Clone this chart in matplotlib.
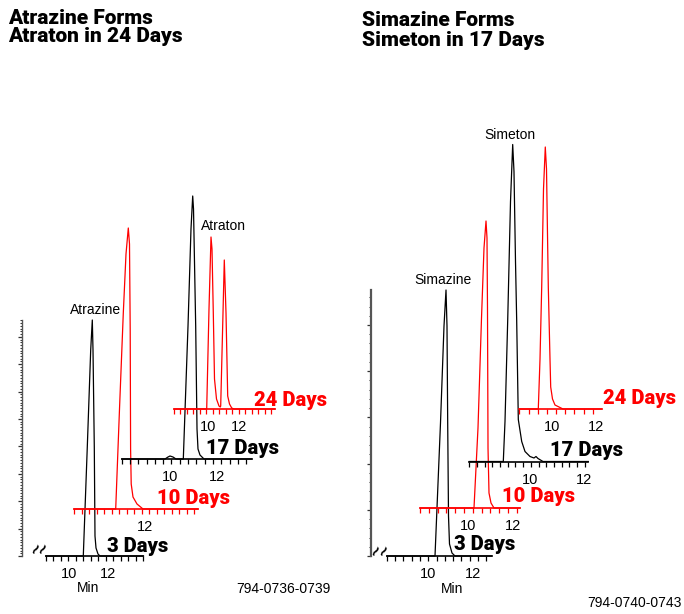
import numpy as np
import matplotlib
matplotlib.use('Agg')
import matplotlib.pyplot as plt

plt.rcParams['font.family'] = ['Liberation Sans', 'DejaVu Sans']

W, H = 684, 614
RED = '#ff0000'
HEAVY = ['Roboto', 'Liberation Sans', 'DejaVu Sans']

# ---- chromatogram data: retention time (min) and detector response
# left panel: atrazine -> atraton
day_labels = ['3 Days', '10 Days', '17 Days', '24 Days']

atz3_t = [8.8, 10.733, 10.938, 11.113, 11.195, 11.231, 11.297, 11.333, 11.385, 11.487, 11.59, 13.82]
atz3_y = [0, 0, 109, 206, 236, 206, 109, 20, 8, 2, 0, 0]

atz10_t = [8.263, 10.458, 10.658, 10.858, 11.0, 11.121, 11.184, 11.221, 11.242, 11.274, 11.368, 11.579, 11.895, 14.79]
atz10_y = [0, 0, 100, 196, 255, 281, 265, 180, 60, 25, 12, 5, 0, 0]

atz17_t = [7.923, 9.766, 9.894, 9.979, 10.106, 10.234, 10.545, 10.745, 10.872, 10.945, 10.979,
           11.072, 11.128, 11.17, 11.255, 11.426, 13.455]
atz17_y = [0, 0, 2, 3, 2, 0, 0, 133, 230, 263, 250, 133, 30, 10, 4, 0, 0]

atz24_t = [7.7, 9.88, 10.033, 10.167, 10.233, 10.32, 10.4, 10.533, 10.7, 10.787,
           10.813, 10.967, 11.053, 11.167, 11.28, 11.4, 11.547, 11.7, 14.43]
atz24_y = [0, 0, 100, 172, 160, 96, 30, 10, 3, 2, 3, 96, 149, 96, 13, 5, 1, 0, 0]

# right panel: simazine -> simeton
sim3_t = [8.151, 10.298, 10.542, 10.698, 10.787, 10.831, 10.862, 10.898, 10.942, 11.053, 11.187, 12.818]
sim3_y = [0, 0, 133, 230, 266, 230, 133, 40, 12, 3, 0, 0]

sim10_t = [7.853, 10.253, 10.431, 10.587, 10.698, 10.787, 10.831, 10.853, 10.876, 10.92, 11.009, 11.142, 12.298]
sim10_y = [0, 0, 80, 190, 260, 287, 270, 200, 60, 15, 5, 0, 0]

sim17_t = [7.752, 9.011, 9.074, 9.174, 9.278, 9.359, 9.407, 9.463, 9.507, 9.567, 9.693,
           9.815, 10.0, 10.148, 10.222, 10.296, 10.481, 12.159]
sim17_y = [0, 0, 40, 141, 260, 317, 290, 200, 141, 42, 20, 10, 5, 3.5, 5, 3, 0, 0]

sim24_t = [8.514, 9.377, 9.455, 9.532, 9.614, 9.695, 9.75, 9.832, 9.909, 9.941, 10.023, 10.136, 10.5, 12.259]
sim24_y = [0, 0, 50, 122, 220, 262, 240, 122, 50, 22, 10, 4, 0, 0]

fig = plt.figure(figsize=(W / 100, H / 100), dpi=100)


def fx(px):
    return px / W


def fy(py):
    return 1 - py / H


def draw_run(t, y, color, x10, ppm, base, step, labels):
    t0, t1 = t[0], t[-1]
    top = max(y) + 30
    ax = fig.add_axes([fx(x10 + (t0 - 10) * ppm), fy(base), (t1 - t0) * ppm / W, top / H])
    ax.patch.set_visible(False)
    ax.set_xlim(t0, t1)
    ax.set_ylim(0, top)
    for s in ['top', 'left', 'right']:
        ax.spines[s].set_visible(False)
    ax.spines['bottom'].set_color(color)
    ax.spines['bottom'].set_linewidth(1.2)
    ax.set_yticks([])
    ax.set_xticks(labels)
    ax.set_xticklabels([str(v) for v in labels])
    ax.set_xticks(np.arange(t0, t1 + 1e-6, step), minor=True)
    ax.tick_params(axis='x', which='major', length=0, pad=8, labelsize=10.5)
    ax.tick_params(axis='x', which='minor', length=3.5, width=0.9, color=color, direction='out')
    ax.plot(t, y, color=color, lw=0.9, clip_on=False, solid_joinstyle='round')
    return ax


def draw_ruler(x, base, top, major, minor, lw):
    ax = fig.add_axes([fx(x), fy(base), 0.001, top / H])
    ax.patch.set_visible(False)
    ax.set_ylim(0, top)
    for s in ['top', 'bottom', 'right']:
        ax.spines[s].set_visible(False)
    ax.spines['left'].set_color('#555555')
    ax.spines['left'].set_linewidth(lw)
    ax.set_xticks([])
    ax.set_yticks(np.arange(0, top + 1e-6, major))
    ax.set_yticks(np.arange(0, top + 1e-6, minor), minor=True)
    ax.set_yticklabels([])
    ax.tick_params(axis='y', which='major', length=3, width=0.9, color='#333333')
    ax.tick_params(axis='y', which='minor', length=1.5, width=0.7, color='#333333')


# ---------------- left panel
draw_ruler(22, 556, 236, 27.4, 2.74, 1.0)
a3 = draw_run(atz3_t, atz3_y, 'black', 69, 19.5, 556, 0.385, [10, 12])
draw_run(atz10_t, atz10_y, RED, 107, 19.0, 509, 0.395, [12])
draw_run(atz17_t, atz17_y, 'black', 170.5, 23.5, 459, 0.353, [10, 12])
a24 = draw_run(atz24_t, atz24_y, RED, 208.5, 15.0, 409, 0.433, [10, 12])

a3.annotate('Atrazine', (atz3_t[4], atz3_y[4]), xytext=(2, 2), textcoords='offset points',
            ha='center', va='bottom', fontsize=10, annotation_clip=False)
a24.annotate('Atraton', (atz24_t[3], atz24_y[3]), xytext=(9, 3), textcoords='offset points',
             ha='center', va='bottom', fontsize=10, annotation_clip=False)

# ---------------- right panel
draw_ruler(371, 556, 266, 46.2, 9.24, 1.6)
s3 = draw_run(sim3_t, sim3_y, 'black', 428.3, 22.5, 556, 0.369, [10, 12])
draw_run(sim10_t, sim10_y, RED, 468.3, 22.5, 508, 0.391, [10, 12])
s17 = draw_run(sim17_t, sim17_y, 'black', 530, 27.0, 461.5, 0.285, [10, 12])
draw_run(sim24_t, sim24_y, RED, 552, 22.0, 409, 0.418, [10, 12])

s3.annotate('Simazine', (sim3_t[4], sim3_y[4]), xytext=(-2, 2), textcoords='offset points',
            ha='center', va='bottom', fontsize=10, annotation_clip=False)
s17.annotate('Simeton', (sim17_t[5], sim17_y[5]), xytext=(-2, 2), textcoords='offset points',
             ha='center', va='bottom', fontsize=10, annotation_clip=False)

# day labels
day_pos = {'left': [(107, 546), (157, 499), (206, 448), (254, 400)],
           'right': [(454, 544), (502, 497), (550, 450), (603, 398)]}
day_col = ['black', RED, 'black', RED]
for side in ['left', 'right']:
    for lab, (px, py), c in zip(day_labels, day_pos[side], day_col):
        fig.text(fx(px), fy(py), lab, color=c, fontsize=14.5, fontweight='black',
                 family=HEAVY, ha='left', va='center')

# axis break marks
for px in [35, 42, 375, 383]:
    py = 550 if px < 100 else 552
    fig.text(fx(px), fy(py), '\u2240', rotation=-35, fontsize=11, fontweight='bold',
             ha='center', va='center', family='DejaVu Sans')

fig.text(fx(88), fy(588), 'Min', fontsize=10, ha='center', va='center')
fig.text(fx(452), fy(589), 'Min', fontsize=10, ha='center', va='center')
fig.text(fx(283), fy(589), '794-0736-0739', fontsize=10, ha='center', va='center')
fig.text(fx(634), fy(603), '794-0740-0743', fontsize=10, ha='center', va='center')

# titles
titles = {'left': (8, ['Atrazine Forms', 'Atraton in 24 Days'], 18),
          'right': (362, ['Simazine Forms', 'Simeton in 17 Days'], 21)}
for side, (px, lines, py) in titles.items():
    for i, line in enumerate(lines):
        fig.text(fx(px), fy(py + 19 * i), line, fontsize=15, fontweight='black',
                 family=HEAVY, ha='left', va='center')

fig.savefig('out.png', dpi=100)
